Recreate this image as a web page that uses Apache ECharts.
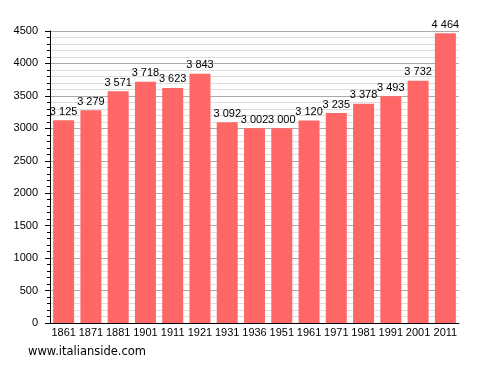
<!DOCTYPE html>
<html>
<head>
<meta charset="utf-8">
<script src="https://cdn.jsdelivr.net/npm/echarts@6/dist/echarts.min.js"></script>
<style>
  html,body{margin:0;padding:0;background:#fff;}
  #chart{width:488px;height:373px;}
</style>
</head>
<body>
<div id="chart"></div>
<script>
  // censimenti
  const years = ['1861','1871','1881','1901','1911','1921','1931','1936','1951','1961','1971','1981','1991','2001','2011']
  const population = [3125,3279,3571,3718,3623,3843,3092,3002,3000,3120,3235,3378,3493,3732,4464]
  const yTicks = [0,500,1000,1500,2000,2500,3000,3500,4000,4500]

  function fmt(v){
    return String(v).replace(/\B(?=(\d{3})+(?!\d))/g,' ')
  }

  const font = 'Liberation Sans'
  const myChart = echarts.init(document.getElementById('chart'))
  myChart.setOption({
    animation:false,
    title:{
      text:'www.italianside.com',
      left:23, top:341,
      textStyle:{fontFamily:'DejaVu Sans',fontSize:11.5,fontWeight:'normal',color:'#000'}
    },
    grid:{left:50,right:29,top:31,bottom:50},
    xAxis:{
      type:'category',
      data:years,
      axisLine:{lineStyle:{color:'#000'}},
      axisTick:{show:false},
      axisLabel:{color:'#000',fontFamily:font,fontSize:11,margin:4,interval:0}
    },
    yAxis:{
      type:'value',
      min:yTicks[0],
      max:yTicks[yTicks.length-1],
      interval:500,
      axisLine:{show:true,lineStyle:{color:'#000'}},
      axisTick:{show:true,length:5,lineStyle:{color:'#000'}},
      minorTick:{show:true,splitNumber:5,length:3,lineStyle:{color:'#000'}},
      axisLabel:{color:'#000',fontFamily:font,fontSize:11,margin:12,formatter:(v)=>String(v)},
      splitLine:{lineStyle:{color:'#aaaaaa'}},
      minorSplitLine:{show:true,lineStyle:{color:'#dddddd'}}
    },
    series:[{
      type:'bar',
      data:population,
      barWidth:21,
      itemStyle:{color:'#ff6666'},
      label:{
        show:true,
        position:'top',
        distance:3,
        color:'#000',
        fontFamily:font,
        fontSize:11,
        formatter:(p)=>fmt(p.value)
      }
    }]
  })
</script>
</body>
</html>
